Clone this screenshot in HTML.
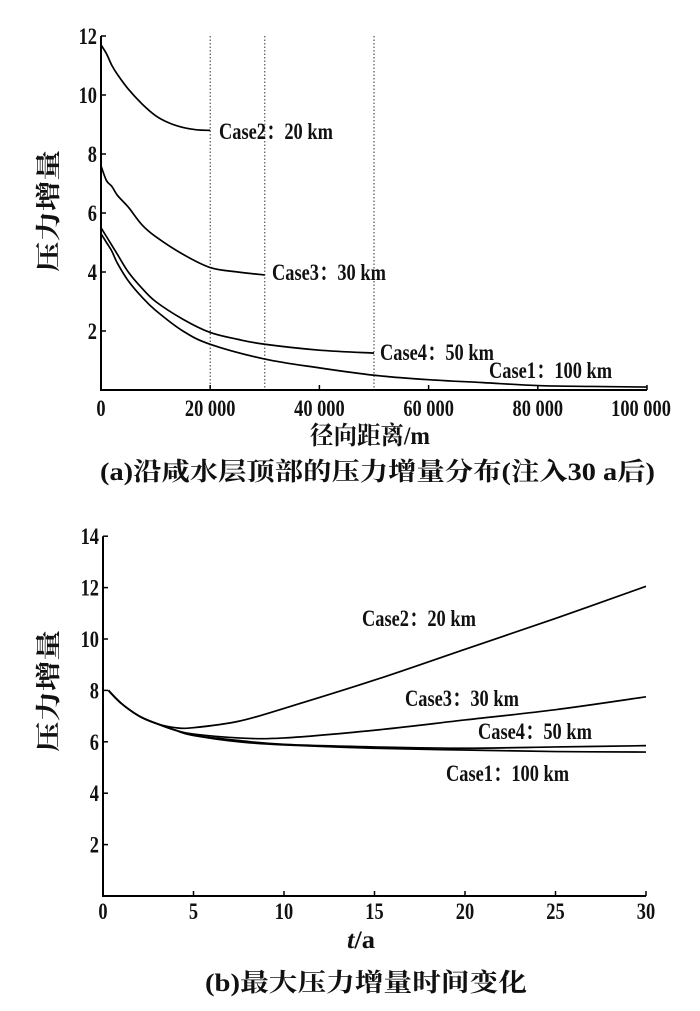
<!DOCTYPE html>
<html><head><meta charset="utf-8">
<style>
html,body{margin:0;padding:0;background:#fff;}
svg text{font-family:"Liberation Serif","Noto Serif CJK SC",serif;fill:#111;}
.t{font-size:23px;font-weight:bold;}
.c{font-size:25px;font-weight:bold;}
</style></head>
<body>
<svg id="chart" width="700" height="1006" viewBox="0 0 700 1006" xmlns="http://www.w3.org/2000/svg">
<g id="top"></g>
<g id="bot"></g>
<text class="c" x="-272" y="57" textLength="122" lengthAdjust="spacingAndGlyphs" transform="rotate(-90)">压力增量</text>
<text class="c" x="310" y="444" textLength="120" lengthAdjust="spacingAndGlyphs">径向距离/m</text>
<text class="c" x="100" y="480" textLength="555" lengthAdjust="spacingAndGlyphs">(a)沿咸水层顶部的压力增量分布(注入30 a后)</text>
<text class="c" x="-752" y="57" textLength="122" lengthAdjust="spacingAndGlyphs" transform="rotate(-90)">压力增量</text>
<text class="c" x="347" y="948" textLength="28" lengthAdjust="spacingAndGlyphs"><tspan font-style="italic">t</tspan>/a</text>
<text class="c" x="205" y="991" textLength="322" lengthAdjust="spacingAndGlyphs">(b)最大压力增量时间变化</text>
</svg>
<script>
// Panel A data (x in km)
const aTicksX = [0, 20000, 40000, 60000, 80000, 100000];
const aTickLabelsX = ["0", "20 000", "40 000", "60 000", "80 000", "100 000"];
const aTicksY = [2, 4, 6, 8, 10, 12];
const aBoundaries = [20, 30, 50];
const aCase2X = [0, 1, 2, 3, 5, 7.5, 10, 12.5, 15, 17.5, 20];
const aCase2Y = [11.7, 11.4, 11.0, 10.7, 10.2, 9.7, 9.3, 9.05, 8.9, 8.82, 8.8];
const aCase3X = [0, 1, 2, 3, 5, 7.5, 10, 15, 20, 25, 30];
const aCase3Y = [7.6, 7.1, 6.9, 6.6, 6.2, 5.6, 5.2, 4.6, 4.15, 4.0, 3.9];
const aCase4X = [0, 1, 2, 3, 5, 7.5, 10, 15, 20, 25, 30, 40, 50];
const aCase4Y = [5.5, 5.2, 4.9, 4.6, 4.0, 3.45, 3.0, 2.4, 1.95, 1.72, 1.55, 1.35, 1.25];
const aCase1X = [0, 1, 2, 3, 5, 7.5, 10, 15, 20, 30, 40, 50, 60, 70, 80, 90, 100];
const aCase1Y = [5.3, 5.0, 4.7, 4.3, 3.7, 3.15, 2.7, 2.0, 1.55, 1.05, 0.75, 0.5, 0.35, 0.25, 0.15, 0.12, 0.1];
const aLabels = ["Case2：20 km", "Case3：30 km", "Case4：50 km", "Case1：100 km"];
// Panel B data (t in years)
const bTicksX = [0, 5, 10, 15, 20, 25, 30];
const bTicksY = [2, 4, 6, 8, 10, 12, 14];
const bT = [0.3, 1, 2, 3, 4, 5, 7.5, 10, 15, 20, 25, 30];
const bCase2 = [8.0, 7.5, 7.0, 6.7, 6.55, 6.55, 6.8, 7.3, 8.4, 9.6, 10.8, 12.05];
const bCase3 = [8.0, 7.5, 7.0, 6.7, 6.45, 6.3, 6.15, 6.15, 6.45, 6.85, 7.25, 7.75];
const bCase4 = [8.0, 7.5, 7.0, 6.7, 6.45, 6.25, 6.05, 5.9, 5.8, 5.75, 5.8, 5.85];
const bCase1 = [8.0, 7.5, 7.0, 6.7, 6.45, 6.25, 6.0, 5.88, 5.75, 5.68, 5.62, 5.6];
const bLabels = ["Case2：20 km", "Case3：30 km", "Case4：50 km", "Case1：100 km"];

const NS = "http://www.w3.org/2000/svg";
function mk(tag, attrs, parent) {
  const e = document.createElementNS(NS, tag);
  for (const k in attrs) e.setAttribute(k, attrs[k]);
  parent.appendChild(e);
  return e;
}
function txt(x, y, anchor, s, parent) {
  const e = mk("text", {class: "t", "text-anchor": anchor, transform: "translate(" + x + " " + y + ") scale(0.8 1)"}, parent);
  e.textContent = s;
  return e;
}
function smoothPath(xs, ys, sx, sy) {
  const p = xs.map((x, i) => [sx(x), sy(ys[i])]);
  let d = "M" + p[0][0] + "," + p[0][1];
  for (let i = 0; i < p.length - 1; i++) {
    const p0 = p[i - 1] || p[i], p1 = p[i], p2 = p[i + 1], p3 = p[i + 2] || p2;
    const c1x = p1[0] + (p2[0] - p0[0]) / 6, c1y = p1[1] + (p2[1] - p0[1]) / 6;
    const c2x = p2[0] - (p3[0] - p1[0]) / 6, c2y = p2[1] - (p3[1] - p1[1]) / 6;
    d += " C" + c1x + "," + c1y + " " + c2x + "," + c2y + " " + p2[0] + "," + p2[1];
  }
  return d;
}

// ---- Panel A ----
const A = document.getElementById("top");
const ax = v => 101 + (v / 100) * 546;
const axm = v => 101 + (v / 100000) * 546;
const ay = v => 390 - v * 29.5;
aBoundaries.forEach(b => {
  const l = mk("line", {x1: ax(b), x2: ax(b), y1: ay(12), y2: ay(0), stroke: "#333", "stroke-width": 1, "stroke-dasharray": "1.5,2"}, A);
  
  
});
let axl = mk("path", {d: "M" + ax(0) + "," + ay(12) + " V" + ay(0) + " H" + ax(100), fill: "none", stroke: "#000", "stroke-width": 2}, A);


aTicksY.forEach(v => {
  mk("line", {x1: ax(0), x2: ax(0) + 5, y1: ay(v), y2: ay(v), stroke: "#000", "stroke-width": 1.5}, A);
  const t = txt(ax(0) - 4, ay(v) + 8, "end", v, A);
  
  
});
aTicksX.forEach((v, i) => {
  mk("line", {x1: axm(v), x2: axm(v), y1: ay(0), y2: ay(0) - 5, stroke: "#000", "stroke-width": 1.5}, A);
  const t = txt(i === 5 ? axm(v) - 6 : axm(v), 416, "middle", aTickLabelsX[i], A);
  
  
});
[[aCase2X, aCase2Y], [aCase3X, aCase3Y], [aCase4X, aCase4Y], [aCase1X, aCase1Y]].forEach((s, i) => {
  const p = mk("path", {d: smoothPath(s[0], s[1], ax, ay), fill: "none", stroke: "#000", "stroke-width": 1.7}, A);
  
  
});
const aLabPos = [[219, 139], [272, 280], [380, 360], [489, 378]];
aLabels.forEach((s, i) => {
  const t = txt(aLabPos[i][0], aLabPos[i][1], "start", s, A);
  
  
});

// ---- Panel B ----
const B = document.getElementById("bot");
const bx = v => 103 + (v / 30) * 543;
const by = v => 896 - v * 25.7;
let bxl = mk("path", {d: "M" + bx(0) + "," + by(14) + " V" + by(0) + " H" + bx(30), fill: "none", stroke: "#000", "stroke-width": 2}, B);


bTicksY.forEach(v => {
  mk("line", {x1: bx(0), x2: bx(0) + 5, y1: by(v), y2: by(v), stroke: "#000", "stroke-width": 1.5}, B);
  const t = txt(bx(0) - 4, by(v) + 8, "end", v, B);
  
  
});
bTicksX.forEach(v => {
  mk("line", {x1: bx(v), x2: bx(v), y1: by(0), y2: by(0) - 5, stroke: "#000", "stroke-width": 1.5}, B);
  const t = txt(bx(v), 919, "middle", v, B);
  
  
});
[bCase2, bCase3, bCase4, bCase1].forEach((s, i) => {
  const p = mk("path", {d: smoothPath(bT, s, bx, by), fill: "none", stroke: "#000", "stroke-width": 1.7}, B);
  
  
});
const bLabPos = [[362, 626], [405, 706], [478, 739], [446, 781]];
bLabels.forEach((s, i) => {
  const t = txt(bLabPos[i][0], bLabPos[i][1], "start", s, B);
  
  
});
</script>
</body></html>
